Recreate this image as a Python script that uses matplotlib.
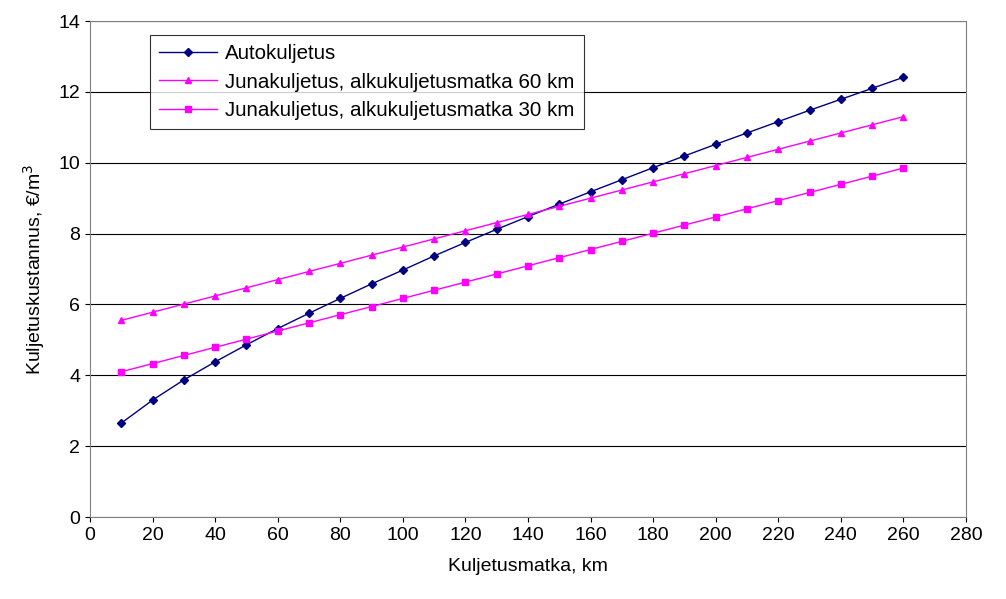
import matplotlib
matplotlib.use('Agg')
import matplotlib.pyplot as plt

plt.rcParams['font.family'] = ['Liberation Sans', 'DejaVu Sans']

matka = [10, 20, 30, 40, 50, 60, 70, 80, 90, 100, 110, 120, 130, 140, 150, 160, 170, 180, 190, 200, 210, 220, 230, 240, 250, 260]
auto = [2.65, 3.30, 3.87, 4.38, 4.86, 5.32, 5.75, 6.17, 6.58, 6.97, 7.37, 7.75, 8.12, 8.48, 8.83, 9.18,
        9.52, 9.86, 10.19, 10.52, 10.84, 11.16, 11.48, 11.79, 12.10, 12.41]
juna60 = [5.55, 5.78, 6.01, 6.24, 6.47, 6.70, 6.93, 7.16, 7.39, 7.62, 7.85, 8.08, 8.31, 8.54, 8.77, 9.00,
          9.23, 9.46, 9.69, 9.92, 10.15, 10.38, 10.61, 10.84, 11.07, 11.30]
juna30 = [4.10, 4.33, 4.56, 4.79, 5.02, 5.25, 5.48, 5.71, 5.94, 6.17, 6.40, 6.63, 6.86, 7.09, 7.32, 7.55,
          7.78, 8.01, 8.24, 8.47, 8.70, 8.93, 9.16, 9.39, 9.62, 9.85]

fig = plt.figure(figsize=(10.06, 5.99), dpi=100)
ax = fig.add_axes([90/1006, 1-517/599, 876/1006, 496/599])
ax.plot(matka, auto, color='#000080', marker='D', markersize=4, lw=1, label='Autokuljetus')
ax.plot(matka, juna60, color='#FF00FF', marker='^', markersize=5, lw=1, label='Junakuljetus, alkukuljetusmatka 60 km')
ax.plot(matka, juna30, color='#FF00FF', marker='s', markersize=5, lw=1, label='Junakuljetus, alkukuljetusmatka 30 km')

ax.set_xlim(0, 280)
ax.set_ylim(0, 14)
ax.set_xticks(range(0, 281, 20))
ax.set_yticks(range(0, 15, 2))
ax.yaxis.grid(True, color='black', lw=0.8)
ax.set_axisbelow(True)
ax.tick_params(labelsize=14, direction='out')
for s in ax.spines.values():
    s.set_color('#808080')
ax.set_xlabel('Kuljetusmatka, km', fontsize=14, labelpad=10)
ax.set_ylabel('Kuljetuskustannus, €/m$^3$', fontsize=14, labelpad=8)
leg = ax.legend(loc='upper left', bbox_to_anchor=(60/876, 1-14/496), borderaxespad=0, fontsize=14.8,
                frameon=True, fancybox=False, edgecolor='black', borderpad=0.45, labelspacing=0.45,
                handlelength=2.8, handletextpad=0.4)
leg.get_frame().set_linewidth(0.8)

plt.savefig('out.png', dpi=100)
